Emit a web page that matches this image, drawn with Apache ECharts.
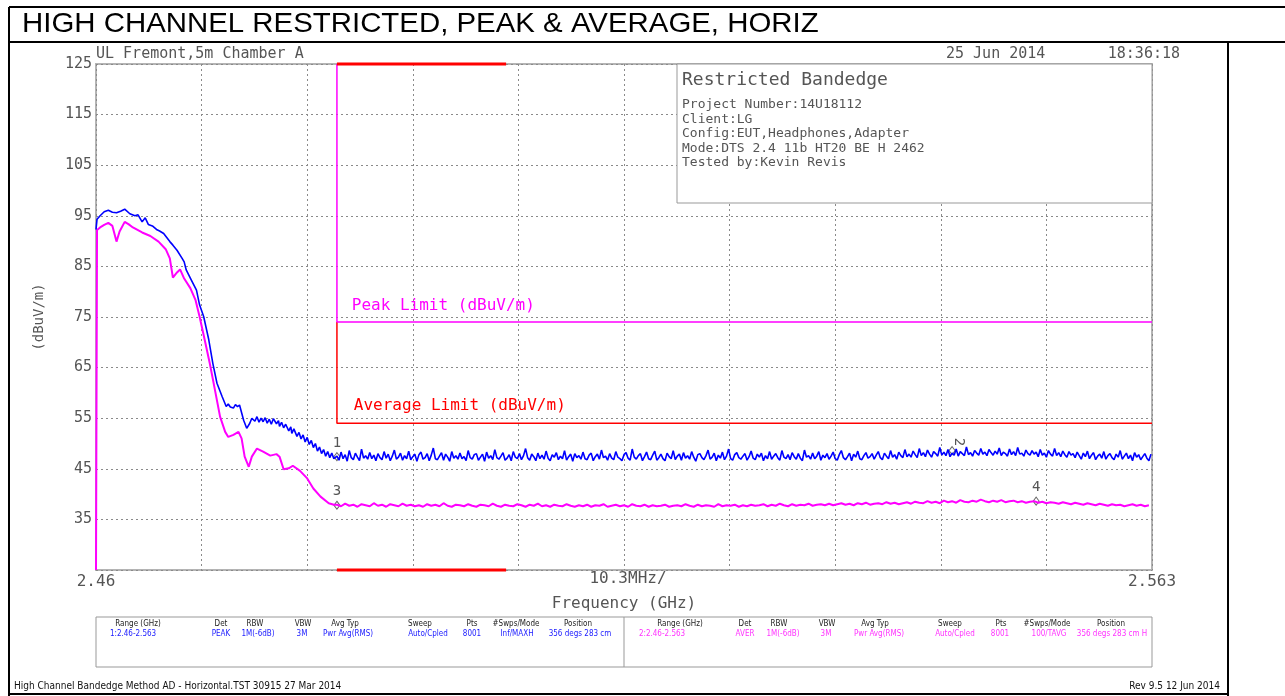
<!DOCTYPE html>
<html lang="en">
<head>
  <meta charset="UTF-8">
  <title>High channel restricted bandedge</title>
  <style>
    html, body { margin: 0; padding: 0; background: #fff; }
    #chart { width: 1285px; height: 696px; }
  </style>
</head>
<body>
  <div id="chart"></div>
  <script src="https://cdn.jsdelivr.net/npm/echarts@6/dist/echarts.min.js"></script>
  <script>
    // sweep range (GHz) and y range (dBuV/m)
    const freqRange = [2.46, 2.563]
    const levelRange = [25, 125]
    // restricted band edge and end of the red band marker
    const bandEdges = [2.4835, 2.5]
    const peakLimit = 74
    const avgLimit = 54

    // roll-off part of the peak trace: [GHz, dBuV/m]
    const peakRolloff = [
      [2.46, 92.3], [2.4601, 94.3], [2.4604, 95.0], [2.4608, 95.8], [2.4612, 96.1], [2.4616, 95.7],
      [2.4620, 95.6], [2.4624, 95.9], [2.4628, 96.3], [2.4633, 95.4], [2.4638, 95.0], [2.4641, 95.2],
      [2.4645, 93.8], [2.4648, 94.6], [2.4651, 93.3], [2.4655, 93.0], [2.4659, 92.3], [2.4662, 92.0],
      [2.4666, 91.5], [2.4669, 90.7], [2.4672, 89.9], [2.4675, 89.2], [2.4679, 88.2], [2.4684, 86.6],
      [2.4686, 85.9], [2.4688, 84.3], [2.4693, 82.3], [2.4698, 80.3], [2.4701, 77.4], [2.4705, 75.1],
      [2.4710, 70.5], [2.4714, 65.8], [2.4718, 61.9], [2.4723, 59.3], [2.4727, 57.3], [2.4729, 57.8],
      [2.4731, 57.2], [2.4734, 57.0], [2.4736, 57.7], [2.4738, 57.3], [2.4740, 57.6], [2.4744, 54.6],
      [2.4747, 53.0], [2.4750, 54.0], [2.4752, 55.0], [2.4755, 54.4], [2.4757, 55.3], [2.4759, 54.2],
      [2.4761, 55.0], [2.4763, 54.3], [2.4765, 55.1], [2.4767, 54.0], [2.4769, 54.8], [2.4771, 53.8],
      [2.4773, 54.9], [2.4776, 53.9], [2.4778, 54.5], [2.4779, 53.4], [2.4781, 54.2], [2.4783, 53.1],
      [2.4785, 53.8], [2.4788, 52.5], [2.4790, 53.3], [2.4791, 52.0], [2.4793, 52.9], [2.4796, 51.4],
      [2.4798, 52.2], [2.4800, 50.9], [2.4802, 51.7], [2.4804, 50.3], [2.4806, 51.2], [2.4808, 49.8],
      [2.4810, 50.6], [2.4812, 49.2], [2.4814, 50.0], [2.4816, 48.5], [2.4818, 49.3], [2.4820, 48.0],
      [2.4822, 48.8], [2.4824, 47.5], [2.4826, 48.4], [2.4828, 47.2], [2.4830, 48.1], [2.4832, 47.0]
    ]

    // roll-off part of the average trace
    const avgRolloff = [
      [2.46, 25], [2.4601, 92.2], [2.4604, 92.7], [2.4608, 93.2], [2.4612, 93.6], [2.4616, 93.0],
      [2.4620, 89.9], [2.4623, 91.9], [2.4628, 93.8], [2.4632, 93.3], [2.4636, 92.7], [2.4645, 91.7],
      [2.4653, 91.0], [2.4661, 89.9], [2.4668, 88.4], [2.4672, 86.6], [2.4675, 82.8], [2.4679, 83.8],
      [2.4682, 84.4], [2.4686, 82.6], [2.4692, 80.7], [2.4697, 78.4], [2.4701, 75.1], [2.4706, 70.5],
      [2.4711, 65.8], [2.4716, 60.6], [2.4721, 55.3], [2.4726, 52.3], [2.4729, 51.3], [2.4734, 51.7],
      [2.4739, 52.3], [2.4742, 51.0], [2.4745, 47.4], [2.4749, 45.4], [2.4752, 47.4], [2.4757, 49.0],
      [2.4763, 48.4], [2.4770, 47.6], [2.4776, 47.9], [2.4779, 47.4], [2.4783, 44.9], [2.4788, 45.1],
      [2.4792, 45.6], [2.4799, 44.6], [2.4806, 43.1], [2.4812, 41.1], [2.4819, 39.5], [2.4827, 38.2],
      [2.4832, 37.9]
    ]

    // flat part of the peak trace, one value every 0.2 MHz from the band edge
    const peakStep = 0.0002
    const peakFlat = [
      47.5, 46.7, 48.3, 47.0, 47.8, 46.5, 48.6, 47.2, 46.8, 48.1, 47.3, 46.6, 48.9, 47.1, 47.6, 46.9, 48.2, 47.0, 47.7, 46.6,
      48.0, 47.2, 46.8, 48.4, 47.1, 47.9, 46.6, 47.5, 48.7, 46.9, 47.3, 48.1, 46.7, 47.6, 47.0, 48.5, 46.8, 47.4, 47.9, 46.5,
      47.8, 48.3, 46.9, 47.2, 48.0, 46.6, 47.7, 49.1, 47.0, 46.8, 47.5, 48.2, 46.7, 47.9, 47.3, 46.5, 48.4, 47.1, 47.6, 46.9,
      48.1, 47.0, 47.4, 46.6, 48.6, 47.2, 46.9, 47.8, 48.0, 46.7, 47.3, 47.9, 46.5, 48.3, 47.1, 47.6, 46.8, 48.8, 47.2, 46.9,
      47.5, 48.2, 46.7, 47.1, 47.8, 46.6, 48.4, 47.3, 47.0, 48.0, 46.8, 47.6, 49.0, 47.2, 46.7, 47.9, 47.4, 46.6, 48.1, 47.0,
      47.7, 46.9, 48.5, 47.1, 46.6, 47.8, 47.3, 48.2, 46.8, 47.5, 47.0, 48.6, 46.7, 47.4, 47.9, 46.5, 48.0, 47.2, 47.6, 46.9,
      48.3, 47.0, 46.8, 47.7, 48.1, 46.6, 47.4, 47.9, 46.9, 48.7, 47.2, 47.5, 46.7, 48.0, 47.1, 46.8, 48.4, 47.3, 47.0, 46.6,
      47.8, 48.2, 47.1, 46.7, 48.9, 47.3, 46.9, 47.6, 48.0, 46.6, 47.4, 48.3, 47.0, 46.8, 47.7, 48.5, 46.7, 47.2, 47.9, 47.0,
      46.6, 48.1, 47.4, 47.0, 48.6, 46.8, 47.5, 47.9, 46.7, 48.2, 47.1, 47.6, 46.9, 48.4, 47.3, 46.5, 47.8, 48.0, 47.2, 46.8,
      47.6, 48.7, 46.9, 47.3, 48.1, 46.6, 47.7, 47.1, 48.3, 46.8, 47.5, 48.9, 47.0, 46.7, 47.8, 48.2, 47.2, 46.9, 47.5, 48.0,
      46.7, 47.4, 48.5, 47.1, 46.8, 47.9, 47.3, 48.1, 46.6, 47.6, 47.0, 48.4, 46.9, 47.5, 48.0, 47.2, 46.7, 48.6, 47.3, 47.0,
      47.8, 46.8, 48.2, 47.4, 46.9, 48.0, 47.1, 46.6, 48.7, 47.3, 47.6, 46.9, 48.1, 47.0, 47.5, 48.4, 46.7, 47.7, 47.2, 48.0,
      46.9, 47.5, 48.3, 47.0, 46.7, 47.8, 48.6, 47.2, 46.8, 47.4, 48.1, 46.6, 47.9, 47.3, 48.5, 47.0, 46.8, 47.6, 48.2, 47.1,
      47.4, 48.0, 46.9, 47.7, 48.4, 47.2, 46.8, 48.1, 47.5, 47.0, 48.6, 47.3, 47.8, 46.9, 48.3, 47.6, 47.2, 48.8, 47.4, 47.9,
      47.3, 48.5, 47.8, 47.2, 49.0, 47.6, 48.2, 47.4, 48.7, 47.9, 47.3, 48.4, 48.0, 47.5, 49.2, 47.7, 48.3, 47.6, 48.8, 47.4,
      48.1, 47.7, 48.9, 47.5, 48.4, 48.0, 47.6, 49.3, 47.8, 48.2, 47.5, 48.6, 48.1, 47.7, 49.0, 47.9, 48.3, 47.6, 48.8, 48.2,
      47.7, 48.5, 47.9, 49.1, 47.6, 48.3, 48.0, 47.5, 48.9, 47.8, 48.4, 47.6, 49.2, 47.9, 48.1, 47.5, 48.7, 48.0, 47.7, 48.6,
      47.9, 48.3, 47.4, 48.8, 47.7, 48.1, 47.3, 48.6, 47.9, 47.5, 49.0, 47.6, 48.2, 47.4, 48.5, 47.8, 47.3, 48.4, 47.7, 48.0,
      47.2, 48.3, 47.6, 46.9, 48.1, 47.4, 48.5, 47.0, 47.7, 48.2, 46.8, 47.5, 47.9, 47.1, 48.4, 46.9, 47.6, 48.0, 47.2, 46.8,
      47.9, 47.3, 48.6, 46.9, 47.5, 48.1, 47.0, 47.7, 46.6, 48.2, 47.3, 47.8, 46.8, 47.4, 48.0, 47.1, 46.6, 47.9, 47.5, 47.2
    ]

    // flat part of the average trace, one value every 0.4 MHz from the band edge
    const avgStep = 0.0004
    const avgFlat = [
      37.9, 37.6, 38.1, 37.7, 37.9, 37.5, 38.0, 37.8, 37.6, 38.2, 37.7, 37.9, 37.5, 38.0, 37.8, 37.6, 38.1, 37.7, 37.9, 37.6,
      37.8, 37.5, 38.0, 37.7, 37.9, 37.6, 38.2, 37.7, 37.5, 37.9, 37.8, 37.6, 38.0, 37.7, 37.5, 37.9, 37.8, 37.6, 38.1, 37.7,
      37.5, 37.9, 37.7, 37.6, 38.0, 37.8, 37.5, 37.9, 37.7, 38.1, 37.6, 37.8, 37.5, 37.9, 37.7, 37.6, 38.0, 37.7, 37.5, 37.8,
      37.6, 37.9, 37.5, 37.8, 37.7, 38.0, 37.5, 37.7, 37.9, 37.6, 37.8, 37.5, 38.0, 37.7, 37.6, 37.9, 37.5, 37.8, 37.6, 37.7,
      37.9, 37.5, 37.7, 37.8, 37.6, 38.0, 37.7, 37.5, 37.9, 37.6, 37.8, 37.7, 37.5, 38.0, 37.6, 37.8, 37.7, 37.9, 37.5, 37.8,
      37.6, 37.9, 37.7, 37.8, 38.0, 37.6, 37.9, 37.7, 38.1, 37.8, 37.6, 38.0, 37.7, 37.9, 37.8, 38.1, 37.7, 37.9, 38.0, 37.8,
      38.1, 37.8, 38.0, 38.2, 37.9, 38.1, 37.8, 38.2, 38.0, 38.3, 37.9, 38.1, 38.2, 38.0, 38.4, 38.1, 38.3, 38.0, 38.2, 38.4,
      38.1, 38.5, 38.3, 38.2, 38.6, 38.3, 38.5, 38.2, 38.7, 38.4, 38.6, 38.3, 38.8, 38.5, 38.4, 38.7, 38.5, 38.9, 38.6, 38.4,
      38.7, 38.5, 38.8, 38.4, 38.6, 38.7, 38.4, 38.6, 38.3, 38.5, 38.6, 38.3, 38.5, 38.2, 38.4, 38.3, 38.1, 38.4, 38.2, 38.0,
      38.3, 38.1, 37.9, 38.2, 38.0, 37.8, 38.1, 37.9, 37.7, 38.0, 37.8, 37.9, 37.6, 37.8, 38.0, 37.7, 37.9, 37.6, 37.8, 37.7
    ]

    // markers: [GHz, dBuV/m]
    const markers = [
      { name: '1', at: [2.4835, 47.4], trace: 'peak' },
      { name: '2', at: [2.5435, 48.6], trace: 'peak' },
      { name: '3', at: [2.4835, 37.8], trace: 'avg' },
      { name: '4', at: [2.5517, 38.6], trace: 'avg' }
    ]

    const tableHead = ['Range (GHz)', 'Det', 'RBW', 'VBW', 'Avg Typ', 'Sweep', 'Pts', '#Swps/Mode', 'Position']
    const tableRow1 = ['1:2.46-2.563', 'PEAK', '1M(-6dB)', '3M', 'Pwr Avg(RMS)', 'Auto/Cpled', '8001', 'Inf/MAXH', '356 degs 283 cm']
    const tableRow2 = ['2:2.46-2.563', 'AVER', '1M(-6dB)', '3M', 'Pwr Avg(RMS)', 'Auto/Cpled', '8001', '100/TAVG', '356 degs 283 cm H']

    const infoLines = [
      'Project Number:14U18112',
      'Client:LG',
      'Config:EUT,Headphones,Adapter',
      'Mode:DTS 2.4 11b HT20 BE H 2462',
      'Tested by:Kevin Revis'
    ]

    function withFlat(rolloff, flat, step) {
      const out = rolloff.slice()
      flat.forEach((v, i) => {
        const f = +(bandEdges[0] + i * step).toFixed(5)
        if (f <= freqRange[1]) out.push([f, v])
      })
      return out
    }

    const MONO = '"DejaVu Sans Mono", monospace'
    const COND = '"DejaVu Sans Condensed", "DejaVu Sans", sans-serif'
    const GREY = '#555'

    const chart = echarts.init(document.getElementById('chart'))

    function markerPoints(trace) {
      return markers.filter(m => m.trace === trace).map(m => ({
        name: m.name,
        coord: m.at,
        label: m.name === '2' ? { rotate: -90, distance: 4 } : {}
      }))
    }

    // static page furniture
    const graphics = []
    function line(x1, y1, x2, y2, color, w) {
      graphics.push({ type: 'line', shape: { x1, y1, x2, y2 }, style: { stroke: color, lineWidth: w }, z: 50 })
    }
    function text(x, y, str, font, opts, extra) {
      graphics.push(Object.assign({
        type: 'text', x, y, z: 60,
        style: Object.assign({ text: str, font, fill: GREY, textAlign: 'left', textVerticalAlign: 'middle' }, opts || {})
      }, extra || {}))
    }
    // outer frame
    line(9, 7, 1285, 7, '#000', 2)
    line(9, 7, 9, 696, '#000', 2)
    line(9, 42, 1285, 42, '#000', 2)
    line(1228, 42, 1228, 696, '#000', 2)
    line(9, 694, 1228, 694, '#000', 2)
    text(22, 24, 'HIGH CHANNEL RESTRICTED, PEAK & AVERAGE, HORIZ', '28px "Liberation Sans", Arial, sans-serif', { fill: '#000' }, { scaleX: 1.05 })

    text(96, 54, 'UL Fremont,5m Chamber A', '15px ' + MONO)
    text(946, 54, '25 Jun 2014', '15px ' + MONO)
    text(1180, 54, '18:36:18', '15px ' + MONO, { textAlign: 'right' })
    text(628, 579, '10.3MHz/', '16px ' + MONO, { textAlign: 'center' })

    // info box
    graphics.push({ type: 'rect', shape: { x: 677, y: 64, width: 475, height: 139 }, style: { fill: '#fff', stroke: '#999', lineWidth: 1 }, z: 40 })
    text(682, 80, 'Restricted Bandedge', '18px ' + MONO)
    infoLines.forEach((s, i) => text(682, 105 + i * 14.5, s, '13px ' + MONO))

    // settings table
    graphics.push({ type: 'rect', shape: { x: 96, y: 617, width: 1056, height: 50 }, style: { fill: 'none', stroke: '#999', lineWidth: 1 }, z: 40 })
    line(624, 617, 624, 667, '#999', 1)
    const headX1 = [138, 221, 255, 303, 345, 420, 472, 516, 578]
    const headX2 = [680, 745, 779, 827, 875, 950, 1001, 1047, 1111]
    const valX1 = [133, 221, 258, 302, 348, 428, 472, 517, 580]
    const valX2 = [662, 745, 783, 826, 879, 955, 1000, 1049, 1112]
    tableHead.forEach((s, i) => {
      text(headX1[i], 624, s, '8px ' + COND, { textAlign: 'center', fill: '#222' })
      text(headX2[i], 624, s, '8px ' + COND, { textAlign: 'center', fill: '#222' })
    })
    tableRow1.forEach((s, i) => text(valX1[i], 634, s, '8px ' + COND, { textAlign: 'center', fill: '#1a1aff' }))
    tableRow2.forEach((s, i) => text(valX2[i], 634, s, '8px ' + COND, { textAlign: 'center', fill: '#ff33ff' }))

    // footer
    text(14, 686, 'High Channel Bandedge Method AD - Horizontal.TST 30915 27 Mar 2014', '10px ' + COND, { fill: '#111' })
    text(1220, 686, 'Rev 9.5 12 Jun 2014', '10px ' + COND, { fill: '#111', textAlign: 'right' })

    const limitLabel = (text, color) => ({
      symbol: 'circle', symbolSize: 1, silent: true,
      itemStyle: { color: 'rgba(0,0,0,0)' },
      label: { show: true, position: 'right', distance: 0, formatter: text, fontFamily: MONO, fontSize: 16, color }
    })

    const option = {
      backgroundColor: '#fff',
      animation: false,
      grid: { left: 96, right: 133, top: 64, bottom: 126, show: true, borderColor: '#b4b4b4', borderWidth: 2, backgroundColor: 'transparent' },
      xAxis: [
        {
          type: 'value', min: freqRange[0], max: freqRange[1],
          name: 'Frequency (GHz)', nameLocation: 'middle', nameGap: 26,
          nameTextStyle: { fontFamily: MONO, fontSize: 16, color: GREY },
          axisLine: { show: false }, axisTick: { show: false }, splitLine: { show: false },
          axisLabel: {
            showMinLabel: true, showMaxLabel: true, margin: 4,
            fontFamily: MONO, fontSize: 16, color: GREY,
            formatter: v => Math.abs(v - freqRange[0]) < 1e-7 ? '2.46' : (Math.abs(v - freqRange[1]) < 1e-7 ? '2.563' : '')
          }
        },
        {
          // ten 10.3 MHz divisions for the graticule
          type: 'value', min: 0, max: 10, interval: 1, position: 'bottom',
          axisLine: { show: false }, axisTick: { show: false }, axisLabel: { show: false },
          splitLine: { show: true, lineStyle: { color: '#8a8a8a', type: [2, 3], width: 1 } }
        }
      ],
      yAxis: {
        type: 'value', min: levelRange[0], max: levelRange[1], interval: 10,
        name: '(dBuV/m)', nameLocation: 'middle', nameGap: 50, nameRotate: 90,
        nameTextStyle: { fontFamily: MONO, fontSize: 14, color: GREY },
        axisLine: { show: false }, axisTick: { show: false },
        axisLabel: { margin: 4, fontFamily: MONO, fontSize: 15, color: GREY, formatter: v => v === levelRange[0] ? '' : String(v) },
        splitLine: { show: true, lineStyle: { color: '#8a8a8a', type: [2, 3], width: 1 } }
      },
      series: [
        {
          name: 'Band marker top', type: 'line', symbol: 'none', clip: false, silent: true,
          data: [[bandEdges[0], levelRange[1]], [bandEdges[1], levelRange[1]]],
          lineStyle: { color: '#ff0000', width: 3 }, z: 5
        },
        {
          name: 'Band marker bottom', type: 'line', symbol: 'none', clip: false, silent: true,
          data: [[bandEdges[0], levelRange[0]], [bandEdges[1], levelRange[0]]],
          lineStyle: { color: '#ff0000', width: 3 }, z: 5
        },
        {
          name: 'Average Limit', type: 'line', symbol: 'none', silent: true,
          data: [[bandEdges[0], peakLimit], [bandEdges[0], avgLimit], [freqRange[1], avgLimit]],
          lineStyle: { color: '#ff0000', width: 1.5 }, z: 4,
          markPoint: Object.assign(limitLabel('Average Limit (dBuV/m)', '#ff0000'), { data: [{ coord: [2.4851, 57.4] }] })
        },
        {
          name: 'Peak Limit', type: 'line', symbol: 'none', silent: true,
          data: [[bandEdges[0], levelRange[1]], [bandEdges[0], peakLimit], [freqRange[1], peakLimit]],
          lineStyle: { color: '#ff00ff', width: 1.5 }, z: 4,
          markPoint: Object.assign(limitLabel('Peak Limit (dBuV/m)', '#ff00ff'), { data: [{ coord: [2.4849, 77.2] }] })
        },
        {
          name: 'Average', type: 'line', symbol: 'none', silent: true,
          data: withFlat(avgRolloff, avgFlat, avgStep),
          lineStyle: { color: '#ff00ff', width: 2 }, z: 6,
          markPoint: {
            symbol: 'diamond', symbolSize: [6, 8], silent: true,
            itemStyle: { color: 'transparent', borderColor: '#666', borderWidth: 1 },
            label: { show: true, position: 'top', distance: 2, formatter: '{b}', fontFamily: MONO, fontSize: 14, color: GREY },
            data: markerPoints('avg')
          }
        },
        {
          name: 'Peak', type: 'line', symbol: 'none', silent: true,
          data: withFlat(peakRolloff, peakFlat, peakStep),
          lineStyle: { color: '#0000ff', width: 1.6 }, z: 7,
          markPoint: {
            symbol: 'diamond', symbolSize: [6, 8], silent: true,
            itemStyle: { color: 'transparent', borderColor: '#666', borderWidth: 1 },
            label: { show: true, position: 'top', distance: 2, formatter: '{b}', fontFamily: MONO, fontSize: 14, color: GREY },
            data: markerPoints('peak')
          }
        }
      ],
      graphic: graphics
    }

    chart.setOption(option)
  </script>
</body>
</html>
